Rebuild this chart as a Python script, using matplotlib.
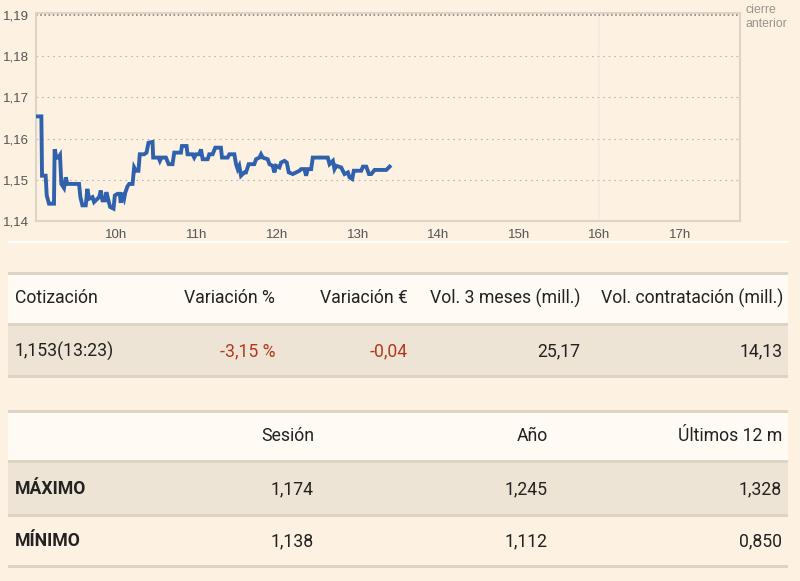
import matplotlib.pyplot as plt
from matplotlib.patches import Rectangle
from matplotlib.ticker import FuncFormatter

# -------------------------------
# DATA
# -------------------------------
# minutes after 9:00 and price (euros)
minutes = [1.0, 4.0, 4.5, 7.2, 8.0, 9.7, 13.4, 13.9, 15.2, 16.7, 17.9, 18.9,
           20.9, 22.2, 23.4, 32.1, 33.1, 34.6, 37.1, 38.3, 39.6, 42.1, 43.3,
           45.8, 47.1, 48.3, 49.6, 51.5, 52.5, 54.0, 55.3, 57.8, 58.8, 60.8,
           62.5, 63.2, 64.0, 65.7, 66.5, 68.2, 69.5, 72.0, 73.2, 74.5, 76.4,
           77.4, 80.7, 82.4, 83.9, 86.9, 87.4, 91.4, 92.4, 93.6, 96.9, 98.9,
           101.8, 103.1, 108.1, 108.8, 112.3, 113.0, 116.8, 118.0, 119.3,
           121.8, 123.0, 124.3, 128.0, 129.2, 131.7, 133.7, 137.9, 138.7,
           142.9, 144.2, 147.9, 149.2, 150.4, 151.6, 152.9, 155.4, 156.6,
           158.6, 162.8, 164.1, 166.6, 167.8, 169.1, 172.8, 174.1, 176.5,
           177.8, 179.0, 181.5, 182.8, 185.3, 187.0, 188.5, 191.5, 194.0,
           196.5, 197.7, 200.2, 201.4, 202.7, 205.2, 206.4, 217.6, 218.9,
           221.4, 222.6, 223.9, 227.6, 228.8, 230.1, 232.6, 233.8, 235.8,
           237.0, 242.5, 243.8, 246.3, 248.3, 250.0, 252.5, 261.2, 263.7]
prices = [1.1654, 1.1654, 1.1510, 1.1510, 1.1462, 1.1442, 1.1442, 1.1574,
          1.1554, 1.1554, 1.1560, 1.1490, 1.1480, 1.1506, 1.1490, 1.1490,
          1.1458, 1.1438, 1.1438, 1.1478, 1.1454, 1.1458, 1.1446, 1.1454,
          1.1458, 1.1474, 1.1450, 1.1450, 1.1470, 1.1450, 1.1434, 1.1430,
          1.1462, 1.1466, 1.1466, 1.1444, 1.1468, 1.1454, 1.1468, 1.1484,
          1.1490, 1.1490, 1.1530, 1.1522, 1.1522, 1.1562, 1.1562, 1.1566,
          1.1590, 1.1592, 1.1554, 1.1554, 1.1546, 1.1554, 1.1554, 1.1538,
          1.1538, 1.1566, 1.1566, 1.1582, 1.1582, 1.1562, 1.1562, 1.1554,
          1.1562, 1.1562, 1.1574, 1.1550, 1.1550, 1.1562, 1.1562, 1.1578,
          1.1578, 1.1554, 1.1554, 1.1562, 1.1562, 1.1538, 1.1526, 1.1534,
          1.1510, 1.1518, 1.1518, 1.1538, 1.1538, 1.1550, 1.1554, 1.1562,
          1.1554, 1.1550, 1.1538, 1.1534, 1.1518, 1.1534, 1.1530, 1.1542,
          1.1546, 1.1542, 1.1518, 1.1514, 1.1518, 1.1522, 1.1526, 1.1526,
          1.1510, 1.1526, 1.1526, 1.1554, 1.1554, 1.1538, 1.1546, 1.1526,
          1.1534, 1.1530, 1.1522, 1.1514, 1.1518, 1.1506, 1.1502, 1.1522,
          1.1522, 1.1532, 1.1532, 1.1514, 1.1514, 1.1524, 1.1524, 1.1532]
prev_close = 1.19
y_ticks = [1.14, 1.15, 1.16, 1.17, 1.18, 1.19]
x_hours = [10, 11, 12, 13, 14, 15, 16, 17]

quote_header = ["Cotización", "Variación %", "Variación €",
                "Vol. 3 meses (mill.)", "Vol. contratación (mill.)"]
quote_row = ["1,153(13:23)", "-3,15 %", "-0,04", "25,17", "14,13"]
range_header = ["", "Sesión", "Año", "Últimos 12 m"]
range_max = ["MÁXIMO", "1,174", "1,245", "1,328"]
range_min = ["MÍNIMO", "1,138", "1,112", "0,850"]

# -------------------------------
# STYLE
# -------------------------------
BG = "#fdf1e1"
WHITE = "#fffaf3"
BEIGE = "#eee4d5"
SEP = "#ddd4c6"
RED = "#b23a1c"
TXT = "#222222"
TABLE_FONT = ["Roboto", "DejaVu Sans"]
TICK_FONT = ["Liberation Sans", "DejaVu Sans"]
FS = 12.7

fig = plt.figure(figsize=(8, 5.81), dpi=100, facecolor=BG)

# background canvas in pixel coords for the tables
bg = fig.add_axes([0, 0, 1, 1], zorder=0)
bg.set_xlim(0, 800)
bg.set_ylim(581, 0)
bg.axis("off")

# -------------------------------
# PRICE CHART
# -------------------------------
ax = fig.add_axes([36 / 800, 1 - 221 / 581, 704 / 800, 208 / 581], zorder=2)
ax.set_facecolor(BG)
hours = [9 + m / 60 for m in minutes]
ax.axvline(16, color="#f4ece2", lw=1.5, zorder=1)
for v in y_ticks[1:-1]:
    ax.axhline(v, color="#bdb5aa", lw=0.8, ls=(0, (1.5, 3.5)), zorder=1)
ax.axhline(prev_close, color="#8a847c", lw=1.2, ls=(0, (1, 1.5)), zorder=1)
ax.plot(hours, prices, color="#2f61ad", lw=2.8, zorder=3,
        solid_joinstyle="miter")

ax.set_xlim(9, 17.75)
ax.set_ylim(1.14, 1.1905)
ax.set_yticks(y_ticks)
ax.yaxis.set_major_formatter(FuncFormatter(lambda v, p: f"{v:.2f}".replace(".", ",")))
ax.set_xticks(x_hours)
ax.set_xticklabels([f"{h}h" for h in x_hours])
ax.tick_params(length=0, labelsize=9.5, labelcolor="#555555", pad=6)
ax.tick_params(axis="y", pad=5)
for lab in ax.get_xticklabels() + ax.get_yticklabels():
    lab.set_family(TICK_FONT)
for s in ax.spines.values():
    s.set_color("#dcd4c7")
    s.set_linewidth(1.5)

fig.text(746 / 800, 1 - 17 / 581, "cierre\nanterior", color="#9a948c",
         fontsize=8.8, va="center", ha="left", linespacing=1.2,
         family=TICK_FONT)

# thin white band under the chart
bg.add_patch(Rectangle((8, 241), 780, 2, color="white", lw=0))

# -------------------------------
# TABLES
# -------------------------------
def band(y0, y1, color):
    bg.add_patch(Rectangle((8, y0), 780, y1 - y0, color=color, lw=0))

# table 1
band(272, 275, SEP)
band(275, 323, WHITE)
band(323, 326, SEP)
band(326, 375, BEIGE)
band(375, 378, SEP)

q_x = [15, 275, 408, 580, 783]
for i, (h, v) in enumerate(zip(quote_header, quote_row)):
    ha = "left" if i == 0 else "right"
    bg.text(q_x[i], 298, h, ha=ha, va="center", fontsize=FS,
            color=TXT, family=TABLE_FONT)
    col = RED if i in (1, 2) else TXT
    bg.text(q_x[i], 351, v, ha=ha, va="center", fontsize=FS,
            color=col, family=TABLE_FONT)

# table 2
band(410, 413, SEP)
band(413, 460, WHITE)
band(460, 463, SEP)
band(463, 514, BEIGE)
band(514, 517, SEP)
band(565, 568, SEP)

r_x = [15, 314, 548, 782]
for row, yc in ((range_header, 436), (range_max, 489), (range_min, 541)):
    for i, v in enumerate(row):
        ha = "left" if i == 0 else "right"
        bg.text(r_x[i], yc, v, ha=ha, va="center", fontsize=FS,
                color=TXT, family=TABLE_FONT,
                fontweight="bold" if i == 0 else "normal")

fig.savefig("out.png", dpi=100, facecolor=BG)
